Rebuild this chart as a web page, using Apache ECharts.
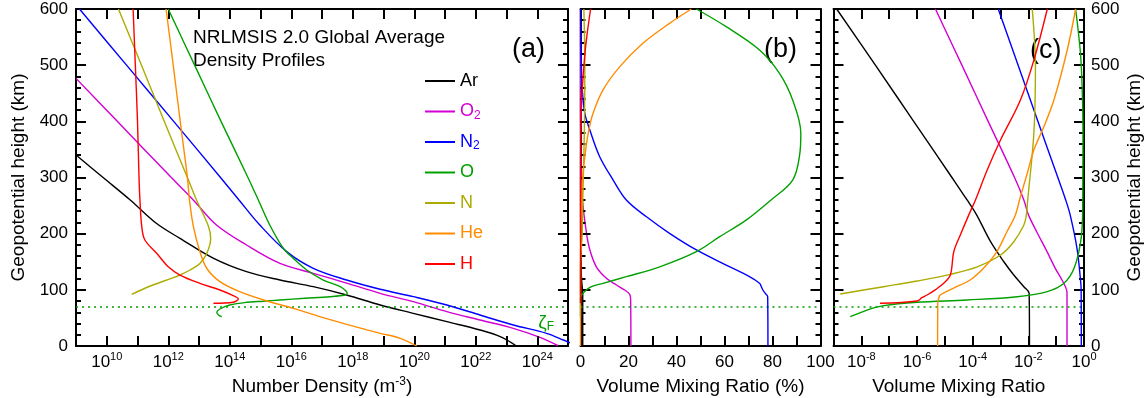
<!DOCTYPE html>
<html>
<head>
<meta charset="utf-8">
<title>NRLMSIS 2.0 global average profiles</title>
<script src="https://cdn.jsdelivr.net/npm/echarts@6.0.0/dist/echarts.min.js"></script>
<style>
  html, body { margin: 0; padding: 0; background: #fff; }
  #chart { width: 1146px; height: 398px; }
</style>
</head>
<body>
<div id="chart"></div>
<script>
const FONT = '"Liberation Sans", Arial, Helvetica, sans-serif'
const black = '#000'

const species = ['Ar', 'O2', 'N2', 'O', 'N', 'He', 'H']
const speciesColors = ['#000000', '#d200d2', '#0000ff', '#00a000', '#acac00', '#ff8c00', '#ff0000']

const heightRange = [0, 600]
const densityRange = [1e9, 1e25]
const percentRange = [0, 100]
const ratioRange = [1e-9, 1]
const zetaF = 70

// tick positions
const heightMajorTicks = [0, 100, 200, 300, 400, 500, 600]
const heightMinorTicks = [20, 40, 60, 80, 120, 140, 160, 180, 220, 240, 260, 280, 320, 340, 360, 380, 420, 440, 460, 480, 520, 540, 560, 580]
const densityTicks = [1e9, 1e10, 1e11, 1e12, 1e13, 1e14, 1e15, 1e16, 1e17, 1e18, 1e19, 1e20, 1e21, 1e22, 1e23, 1e24, 1e25]
const percentTicks = [0, 10, 20, 30, 40, 50, 60, 70, 80, 90, 100]
const ratioTicks = [1e-9, 1e-8, 1e-7, 1e-6, 1e-5, 1e-4, 1e-3, 1e-2, 1e-1, 1]

// (a) number density, [height km, m^-3]
const densAr = [[0, 2.1e23], [15.5, 7.1e22], [28.5, 1.4e22], [43.3, 1.15e21], [58.2, 9.3e19], [73, 7.8e18], [90.8, 6.3e17], [105.6, 5.2e16], [117.5, 4.3e15], [132.3, 3.5e14], [156, 3.0e13], [191.7, 2.4e12], [218, 4.2e11], [260, 5.8e10], [300, 7.6e9], [340, 1.0e9]]
const densO2 = [[0, 5.0e24], [15.4, 1.23e24], [31.5, 1.66e23], [46.3, 1.38e22], [61.1, 1.15e21], [78.9, 9.3e19], [93.8, 7.8e18], [112, 6.3e17], [129.4, 5.2e16], [147, 4.3e15], [179.8, 3.5e14], [215.4, 3.7e13], [260, 6.5e12], [300, 1.26e12], [400, 2.2e10], [476.5, 1.0e9]]
const densN2 = [[0, 2.0e25], [10.7, 7.1e24], [22.6, 2.0e24], [37.4, 1.66e23], [55.2, 1.38e22], [73, 1.15e21], [87.8, 9.3e19], [101, 7.8e18], [117.5, 6.3e17], [138.3, 5.2e16], [168, 7.1e15], [215.4, 9.5e14], [260, 2.0e14], [300, 5.0e13], [400, 1.5e12], [500, 4.4e10], [600, 1.3e9]]
const densO = [[52.2, 5.5e13], [55.2, 4.3e13], [60, 3.8e13], [65.9, 4.8e13], [73, 1.0e14], [77.8, 3.5e14], [79.8, 1.2e15], [81.9, 4.3e15], [84.9, 2.8e16], [87.8, 1.8e17], [90.8, 5.6e17], [94, 6.6e17], [98, 6.0e17], [105.6, 3.9e17], [117.5, 1.1e17], [135.3, 3.2e16], [156, 1.17e16], [174, 5.5e15], [215.4, 2.0e15], [260, 8.5e14], [300, 3.9e14], [400, 5.2e13], [500, 7.2e12], [600, 1.0e12]]
const densN = [[92, 6.5e10], [106.8, 2.6e11], [120.5, 1.26e12], [126.4, 2.4e12], [135.3, 5.1e12], [147, 1.07e13], [165, 1.8e13], [191.7, 2.4e13], [214, 2.0e13], [260, 8.3e12], [300, 4.2e12], [400, 7.4e11], [500, 1.35e11], [600, 2.4e10]]
const densHe = [[0, 1.2e20], [13.7, 3.5e19], [22.6, 7.8e18], [38.6, 6.3e17], [52.2, 8.5e16], [67.1, 1.17e16], [80.1, 1.6e15], [96.7, 2.1e14], [114.5, 4.8e13], [138, 1.8e13], [168, 1.07e13], [214, 6.5e12], [260, 4.9e12], [300, 4.2e12], [400, 2.45e12], [500, 1.45e12], [600, 8.5e11]]
const densH = [[76, 2.95e13], [77.8, 1.3e14], [83.7, 1.9e14], [89.6, 1.3e14], [99.7, 4.8e13], [111.6, 1.07e13], [126.4, 2.4e12], [141, 1.0e12], [165, 4.2e11], [188.7, 1.74e11], [212, 1.38e11], [260, 1.2e11], [300, 1.12e11], [400, 1.0e11], [500, 8.5e10], [600, 7.2e10]]

// (b) volume mixing ratio, [height km, %]
const pctAr = [[0, 0.93], [95, 0.93], [110, 0.6], [130, 0.3], [160, 0.13], [200, 0.05], [260, 0.006], [600, 0]]
const pctO2 = [[0, 21], [82, 20.9], [92, 20.5], [99.7, 18.4], [108.6, 15], [120.5, 10.8], [141, 6.6], [171, 3.9], [200.6, 2.5], [260, 0.8], [300, 0.35], [400, 0.04], [600, 0]]
const pctN2 = [[0, 78.1], [87.8, 78], [93.8, 77], [99.7, 76], [105, 75.4], [111.6, 74.6], [123.4, 70.4], [144, 60.7], [171, 48.3], [200.6, 37.1], [230, 27.5], [260, 19.1], [295.5, 13.6], [337, 8], [384.5, 3.9], [414, 1.8], [460, 0.7], [520, 0.25], [600, 0.08]]
const pctO = [[52.2, 0], [85, 0.01], [90.8, 0.4], [104.5, 3.9], [111.6, 9.4], [123.4, 19.1], [141, 33], [168, 48.3], [194.6, 58], [224, 69], [260, 79.4], [295.5, 88.4], [340, 91.3], [378.7, 91.8], [438, 88.4], [485.5, 82.9], [527, 74.6], [568.5, 60.7], [600, 48.3]]
const pctN = [[92, 0], [140, 0.02], [171, 0.3], [200, 0.7], [260, 0.95], [380, 1.6], [500, 1.8], [600, 1.4]]
const pctHe = [[0, 0.0005], [90, 0.0006], [150, 0.03], [200, 0.15], [260, 0.5], [295.5, 0.8], [337, 1.8], [378.7, 3.2], [414, 5.2], [456, 9.4], [497, 16.3], [539, 26], [574.5, 37.1], [600, 46.2]]
const pctH = [[76, 0], [300, 0.03], [367, 0.1], [438, 0.5], [509, 1.6], [550, 2.6], [600, 4.2]]

// (c) volume mixing ratio, [height km, fraction]
const vmrAr = [[0, 1.1e-2], [93.8, 1.07e-2], [105.6, 6.9e-3], [126.4, 3.0e-3], [150, 1.32e-3], [185.7, 4.4e-4], [233, 1.4e-4], [260, 6.3e-5], [300, 1.8e-5], [400, 7.6e-7], [500, 3.2e-8], [600, 1.3e-9]]
const vmrO2 = [[0, 0.245], [95, 0.245], [117.5, 0.162], [138.3, 0.093], [168, 0.047], [203.5, 0.020], [233, 0.0102], [260, 6.9e-3], [300, 3.2e-3], [400, 3.6e-4], [500, 4.1e-5], [600, 4.6e-6]]
const vmrN2 = [[0, 0.8], [100, 0.79], [120.5, 0.74], [174, 0.56], [233, 0.32], [260, 0.22], [300, 0.115], [400, 0.022], [500, 4.3e-3], [600, 8.3e-4]]
const vmrO = [[52.2, 4.0e-9], [64, 1.6e-8], [71.8, 6.3e-8], [77.8, 1.0e-6], [81.9, 6.3e-5], [87.8, 4.0e-3], [96.7, 0.048], [111.6, 0.19], [138.3, 0.44], [185.7, 0.76], [233, 0.89], [300, 0.91], [380, 0.92], [450, 0.87], [520, 0.75], [600, 0.5]]
const vmrN = [[92.6, 1.74e-9], [105.6, 6.3e-8], [115.7, 1.0e-6], [127.6, 1.58e-5], [141, 1.45e-4], [162, 1.0e-3], [185.7, 3.0e-3], [215.4, 6.9e-3], [233, 8.5e-3], [260, 9.5e-3], [378.7, 0.0158], [497, 0.018], [600, 0.0138]]
const vmrHe = [[0, 5.5e-6], [79, 5.6e-6], [84, 6.0e-6], [90.8, 6.8e-6], [102.7, 2.0e-5], [117.5, 8.1e-5], [138.3, 2.45e-4], [168, 7.4e-4], [203.5, 1.7e-3], [233, 3.4e-3], [266, 5.2e-3], [307, 9.1e-3], [349, 0.0158], [390.4, 0.036], [438, 0.083], [527, 0.25], [600, 0.5]]
const vmrH = [[76, 4.7e-8], [80.1, 1.0e-6], [86, 1.5e-6], [90.8, 2.3e-6], [100, 4.5e-6], [111.6, 9.1e-6], [126.4, 1.58e-5], [168, 2.1e-5], [197.6, 3.6e-5], [233, 7.2e-5], [260, 1.26e-4], [313, 3.3e-4], [366.7, 1.0e-3], [438, 5.2e-3], [509, 0.0158], [600, 0.048]]

const densityData = [densAr, densO2, densN2, densO, densN, densHe, densH]
const percentData = [pctAr, pctO2, pctN2, pctO, pctN, pctHe, pctH]
const ratioData = [vmrAr, vmrO2, vmrN2, vmrO, vmrN, vmrHe, vmrH]

const panels = [
  { left: 76, top: 9, width: 492, height: 337 },
  { left: 580.5, top: 9, width: 240, height: 337 },
  { left: 833.5, top: 9, width: 250.5, height: 337 },
]
const xTickSets = [densityTicks, percentTicks, ratioTicks]
const xRanges = [densityRange, percentRange, ratioRange]
const xIsLog = [true, false, true]

const chart = echarts.init(document.getElementById('chart'), null, { renderer: 'canvas' })

const frameLine = () => ({ show: true, onZero: false, lineStyle: { color: black, width: 2 } })
const nameStyle = { fontSize: 19, lineHeight: 22, color: black, fontFamily: FONT }
const supRich = {
  b: { fontSize: 17, lineHeight: 22, color: black, fontFamily: FONT },
  s: { fontSize: 11, lineHeight: 12, verticalAlign: 'top', color: black, fontFamily: FONT },
}

// 10^n labels on every second decade
function powLabel(v) {
  const e = Math.round(Math.log10(v))
  return e % 2 === 0 ? '{b|10}{s|' + e + '}' : ''
}

function logAxis(grid, position, base, range, labelled, name) {
  return {
    type: 'log', logBase: base, gridIndex: grid, position,
    min: range[0], max: range[1],
    axisLine: frameLine(), axisTick: { show: false }, splitLine: { show: false },
    axisLabel: labelled ? { show: true, margin: 5, formatter: powLabel, rich: supRich } : { show: false },
    name: name || '', nameLocation: 'middle', nameGap: 26,
    nameTextStyle: Object.assign({}, nameStyle, { rich: {
      b: { fontSize: 19, lineHeight: 22, color: black, fontFamily: FONT },
      s: { fontSize: 12, lineHeight: 12, verticalAlign: 'top', color: black, fontFamily: FONT },
    } }),
  }
}

function pctAxis(grid, position, labelled, name) {
  return {
    type: 'value', gridIndex: grid, position,
    min: percentRange[0], max: percentRange[1], interval: 20,
    axisLine: frameLine(), axisTick: { show: false }, splitLine: { show: false },
    axisLabel: labelled ? { show: true, margin: 8, fontSize: 17, color: black, fontFamily: FONT } : { show: false },
    name: name || '', nameLocation: 'middle', nameGap: 26, nameTextStyle: nameStyle,
  }
}

function heightAxis(grid, position, labelled, name) {
  return {
    type: 'value', gridIndex: grid, position,
    min: heightRange[0], max: heightRange[1], interval: 100,
    axisLine: frameLine(), axisTick: { show: false }, splitLine: { show: false },
    axisLabel: { show: labelled, margin: position === 'left' ? 8 : 7, fontSize: 17, color: black, fontFamily: FONT },
    name: name || '', nameLocation: 'middle', nameRotate: 90,
    nameGap: position === 'left' ? 46 : 40, nameTextStyle: nameStyle,
  }
}

const densityName = '{b|Number Density (m}{s|-3}{b|)}'
const heightName = 'Geopotential height (km)'

function zetaLine(withLabel) {
  return {
    silent: true, symbol: ['none', 'none'], animation: false,
    lineStyle: { color: '#00a000', type: [2, 4], width: 1.5 },
    label: {
      show: withLabel, position: 'insideEndBottom', distance: [14, 6],
      formatter: '{z|ζ}{f|F}',
      rich: {
        z: { fontSize: 19, lineHeight: 20, color: '#00a000', fontFamily: FONT },
        f: { fontSize: 12, lineHeight: 8, verticalAlign: 'bottom', color: '#00a000', fontFamily: FONT },
      },
    },
    data: [{ yAxis: zetaF }],
  }
}

// Inward tick marks (10 px major, 5 px minor) on all four frame edges, as
// marker segments in the panel's own data units.
function tickLines(i) {
  const p = panels[i]
  const range = xRanges[i]
  const hStep = (len) => ((heightRange[1] - heightRange[0]) * len) / p.height
  const xIn = (from, len, dir) => (xIsLog[i]
    ? from * Math.pow(range[1] / range[0], (dir * len) / p.width)
    : from + (dir * (range[1] - range[0]) * len) / p.width)
  const data = []
  xTickSets[i].forEach((v) => {
    data.push([{ coord: [v, heightRange[0]] }, { coord: [v, heightRange[0] + hStep(10)] }])
    data.push([{ coord: [v, heightRange[1]] }, { coord: [v, heightRange[1] - hStep(10)] }])
  })
  ;[[heightMajorTicks, 10], [heightMinorTicks, 5]].forEach(([ticks, len]) => {
    ticks.forEach((h) => {
      data.push([{ coord: [range[0], h] }, { coord: [xIn(range[0], len, 1), h] }])
      data.push([{ coord: [range[1], h] }, { coord: [xIn(range[1], len, -1), h] }])
    })
  })
  return {
    silent: true, symbol: ['none', 'none'], animation: false, precision: 6,
    label: { show: false }, emphasis: { disabled: true },
    lineStyle: { color: black, type: 'solid', width: 2 },
    data,
  }
}

const series = []
function addPanel(dataSets, panelIndex, withLabel) {
  const axisIndex = panelIndex * 2
  dataSets.forEach((pairs, i) => {
    const s = {
      type: 'line', name: species[i], xAxisIndex: axisIndex, yAxisIndex: axisIndex,
      data: pairs.map((p) => [p[1], p[0]]),
      symbol: 'none', showSymbol: false, smooth: 0.35, silent: true, z: 3 + i,
      lineStyle: { color: speciesColors[i], width: 1.4 },
      itemStyle: { color: speciesColors[i] },
    }
    if (i === 0) s.markLine = zetaLine(withLabel)
    if (i === 1) s.markLine = tickLines(panelIndex)
    series.push(s)
  })
}
addPanel(densityData, 0, true)
addPanel(percentData, 1, false)
addPanel(ratioData, 2, false)

const legendName = (n) => (n.length === 2 && n[1] === '2' ? '{b|' + n[0] + '}{u|2}' : '{b|' + n + '}')

chart.setOption({
  animation: false,
  backgroundColor: '#fff',
  textStyle: { fontFamily: FONT },
  title: [
    {
      text: 'NRLMSIS 2.0 Global Average\nDensity Profiles', left: 193, top: 26, padding: 0,
      textStyle: { fontSize: 19, fontWeight: 'normal', lineHeight: 23, color: black, fontFamily: FONT },
    },
    { text: '(a)', left: 512, top: 36, padding: 0, textStyle: { fontSize: 27, fontWeight: 'normal', lineHeight: 28, color: black, fontFamily: FONT } },
    { text: '(b)', left: 764, top: 36, padding: 0, textStyle: { fontSize: 27, fontWeight: 'normal', lineHeight: 28, color: black, fontFamily: FONT } },
    { text: '(c)', left: 1030, top: 37, padding: 0, textStyle: { fontSize: 27, fontWeight: 'normal', lineHeight: 28, color: black, fontFamily: FONT } },
  ],
  legend: {
    orient: 'vertical', left: 425, top: 71, padding: 0,
    icon: 'rect', itemWidth: 30, itemHeight: 2, itemGap: 10.5, selectedMode: false,
    data: species.map((s, i) => ({ name: s, itemStyle: { color: speciesColors[i] }, textStyle: { color: speciesColors[i] } })),
    formatter: legendName,
    textStyle: {
      fontSize: 18, lineHeight: 20, fontFamily: FONT,
      rich: {
        b: { fontSize: 18, lineHeight: 20, fontFamily: FONT },
        u: { fontSize: 12, lineHeight: 6, verticalAlign: 'bottom', fontFamily: FONT },
      },
    },
  },
  grid: panels.map((p) => Object.assign({ outerBoundsMode: 'none' }, p)),
  xAxis: [
    logAxis(0, 'bottom', 100, densityRange, true, densityName),
    logAxis(0, 'top', 100, densityRange, false),
    pctAxis(1, 'bottom', true, 'Volume Mixing Ratio (%)'),
    pctAxis(1, 'top', false),
    logAxis(2, 'bottom', 10, ratioRange, true, 'Volume Mixing Ratio'),
    logAxis(2, 'top', 10, ratioRange, false),
  ],
  yAxis: [
    heightAxis(0, 'left', true, heightName),
    heightAxis(0, 'right', false),
    heightAxis(1, 'left', false),
    heightAxis(1, 'right', false),
    heightAxis(2, 'left', false),
    heightAxis(2, 'right', true, heightName),
  ],
  series,
})
</script>
</body>
</html>
